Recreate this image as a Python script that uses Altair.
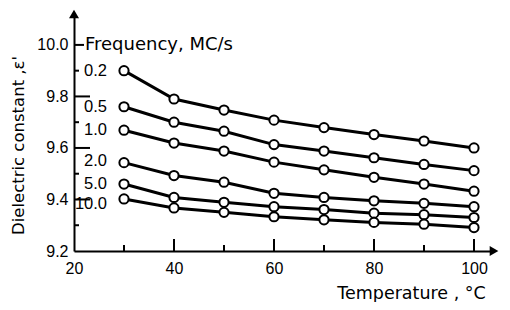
import altair as alt
import pandas as pd

# ---- data ----
temps = [30, 40, 50, 60, 70, 80, 90, 100]
freq_labels = ["0.2", "0.5", "1.0", "2.0", "5.0", "10.0"]
eps_0_2 = [9.90, 9.79, 9.747, 9.708, 9.679, 9.652, 9.627, 9.600]
eps_0_5 = [9.76, 9.70, 9.665, 9.613, 9.588, 9.562, 9.536, 9.512]
eps_1_0 = [9.669, 9.619, 9.588, 9.545, 9.515, 9.486, 9.460, 9.432]
eps_2_0 = [9.543, 9.493, 9.467, 9.424, 9.408, 9.395, 9.385, 9.372]
eps_5_0 = [9.460, 9.408, 9.389, 9.372, 9.361, 9.347, 9.341, 9.330]
eps_10_0 = [9.402, 9.367, 9.350, 9.333, 9.321, 9.311, 9.304, 9.291]
series = [eps_0_2, eps_0_5, eps_1_0, eps_2_0, eps_5_0, eps_10_0]
label_dy = [0, 0, 0, -2, 0, 5]  # small vertical nudges of the series labels (px)

x_labels = [20, 40, 60, 80, 100]
x_major_ticks = [40, 60, 80, 100]
x_minor_ticks = [30, 50, 70, 90]
y_labels = [9.2, 9.4, 9.6, 9.8, 10.0]
y_major_ticks = [9.4, 9.6, 9.8]
y_top_tick = [10.0]
y_minor_ticks = [9.3, 9.5, 9.7, 9.9]
legend_title = "Frequency, MC/s"

X_DOMAIN = [20, 104]
Y_DOMAIN = [9.2, 10.12]

rows = []
for lab, vals in zip(freq_labels, series):
    for t, v in zip(temps, vals):
        rows.append({"freq": lab, "temp": t, "eps": v})
df = pd.DataFrame(rows)

W, H = 420, 237
FONT = "Liberation Sans"
TFONT = "DejaVu Sans"

xs = alt.Scale(domain=X_DOMAIN, nice=False, zero=False)
ys = alt.Scale(domain=Y_DOMAIN, nice=False, zero=False)

x_axis = alt.Axis(
    values=x_labels, format=".0f", title="Temperature , °C",
    tickSize=0, labelPadding=9, labelFlush=False, labelFontSize=16,
    labelFont=FONT, labelColor="black",
    domainColor="black", domainWidth=2, grid=False,
    titleX=337, titleY=47, titleAlign="center", titleBaseline="alphabetic",
    titleFont=TFONT, titleFontSize=17.5, titleFontWeight="normal", titleColor="black",
)
y_axis = alt.Axis(
    values=y_labels, format=".1f", title="Dielectric constant ,ε'",
    tickSize=0, labelPadding=6, labelFlush=False, labelFontSize=16,
    labelFont=FONT, labelColor="black",
    domainColor="black", domainWidth=2, grid=False,
    titleX=-56, titleY=131, titleAlign="center", titleBaseline="middle",
    titleAngle=-90,
    titleFont=TFONT, titleFontSize=16.5, titleFontWeight="normal", titleColor="black",
)

TW = 2
xmaj = alt.Chart(pd.DataFrame({"xt_major": x_major_ticks})).mark_rule(
    color="black", strokeWidth=TW,
).encode(
    x=alt.X("xt_major:Q", scale=xs, axis=x_axis),
    y=alt.value(H), y2=alt.value(H - 12),
)
xmin = alt.Chart(pd.DataFrame({"xt_minor": x_minor_ticks})).mark_rule(
    color="black", strokeWidth=TW,
).encode(
    x=alt.X("xt_minor:Q", scale=xs),
    y=alt.value(H), y2=alt.value(H - 6),
)
ymaj = alt.Chart(pd.DataFrame({"yt_major": y_major_ticks})).mark_rule(color="black", strokeWidth=TW).encode(
    y=alt.Y("yt_major:Q", scale=ys, axis=y_axis), x=alt.value(0), x2=alt.value(16))
ytop = alt.Chart(pd.DataFrame({"yt_top": y_top_tick})).mark_rule(color="black", strokeWidth=TW).encode(
    y=alt.Y("yt_top:Q", scale=ys), x=alt.value(0), x2=alt.value(10))
ymin = alt.Chart(pd.DataFrame({"yt_minor": y_minor_ticks})).mark_rule(color="black", strokeWidth=TW).encode(
    y=alt.Y("yt_minor:Q", scale=ys), x=alt.value(0), x2=alt.value(5))

base = alt.Chart(df)
lines = base.mark_line(color="black", strokeWidth=3).encode(
    x=alt.X("temp:Q", scale=xs),
    y=alt.Y("eps:Q", scale=ys),
    detail="freq:N",
)
points = base.mark_point(
    shape="circle", filled=True, fill="white", stroke="black",
    strokeWidth=2, size=85, opacity=1,
).encode(x=alt.X("temp:Q", scale=xs), y=alt.Y("eps:Q", scale=ys))

label_layers = []
for lab, vals, dy in zip(freq_labels, series, label_dy):
    label_layers.append(
        alt.Chart(pd.DataFrame({"freq": [lab], "eps": [vals[0]]})).mark_text(
            align="right", baseline="middle", font=FONT, fontSize=16.5,
            color="black", dy=dy,
        ).encode(x=alt.value(33), y=alt.Y("eps:Q", scale=ys), text="freq:N")
    )

header = alt.Chart(pd.DataFrame({"t": [legend_title], "hv": y_top_tick})).mark_text(
    align="left", baseline="middle", font=TFONT, fontSize=18, color="black",
).encode(x=alt.value(11), y=alt.Y("hv:Q", scale=ys), text="t:N")

arrow_up = alt.Chart(pd.DataFrame({"ax": [X_DOMAIN[0]], "ay": [Y_DOMAIN[1]]})).mark_point(
    shape="triangle-up", filled=True, color="black", size=100, opacity=1,
).encode(x=alt.X("ax:Q", scale=xs), y=alt.Y("ay:Q", scale=ys))
arrow_right = alt.Chart(pd.DataFrame({"bx": [X_DOMAIN[1]], "by": [Y_DOMAIN[0]]})).mark_point(
    shape="triangle-right", filled=True, color="black", size=100, opacity=1,
).encode(x=alt.X("bx:Q", scale=xs), y=alt.Y("by:Q", scale=ys))

chart = alt.layer(
    xmaj, ymaj, xmin, ytop, ymin, lines, points, *label_layers, header, arrow_up, arrow_right
).properties(
    width=W, height=H,
    autosize=alt.AutoSizeParams(type="none"),
    padding={"left": 66, "top": 6, "right": 8, "bottom": 51},
    background="white",
).configure_view(stroke=None)

chart.save("out.html", embed_options={"renderer": "svg", "actions": False})
